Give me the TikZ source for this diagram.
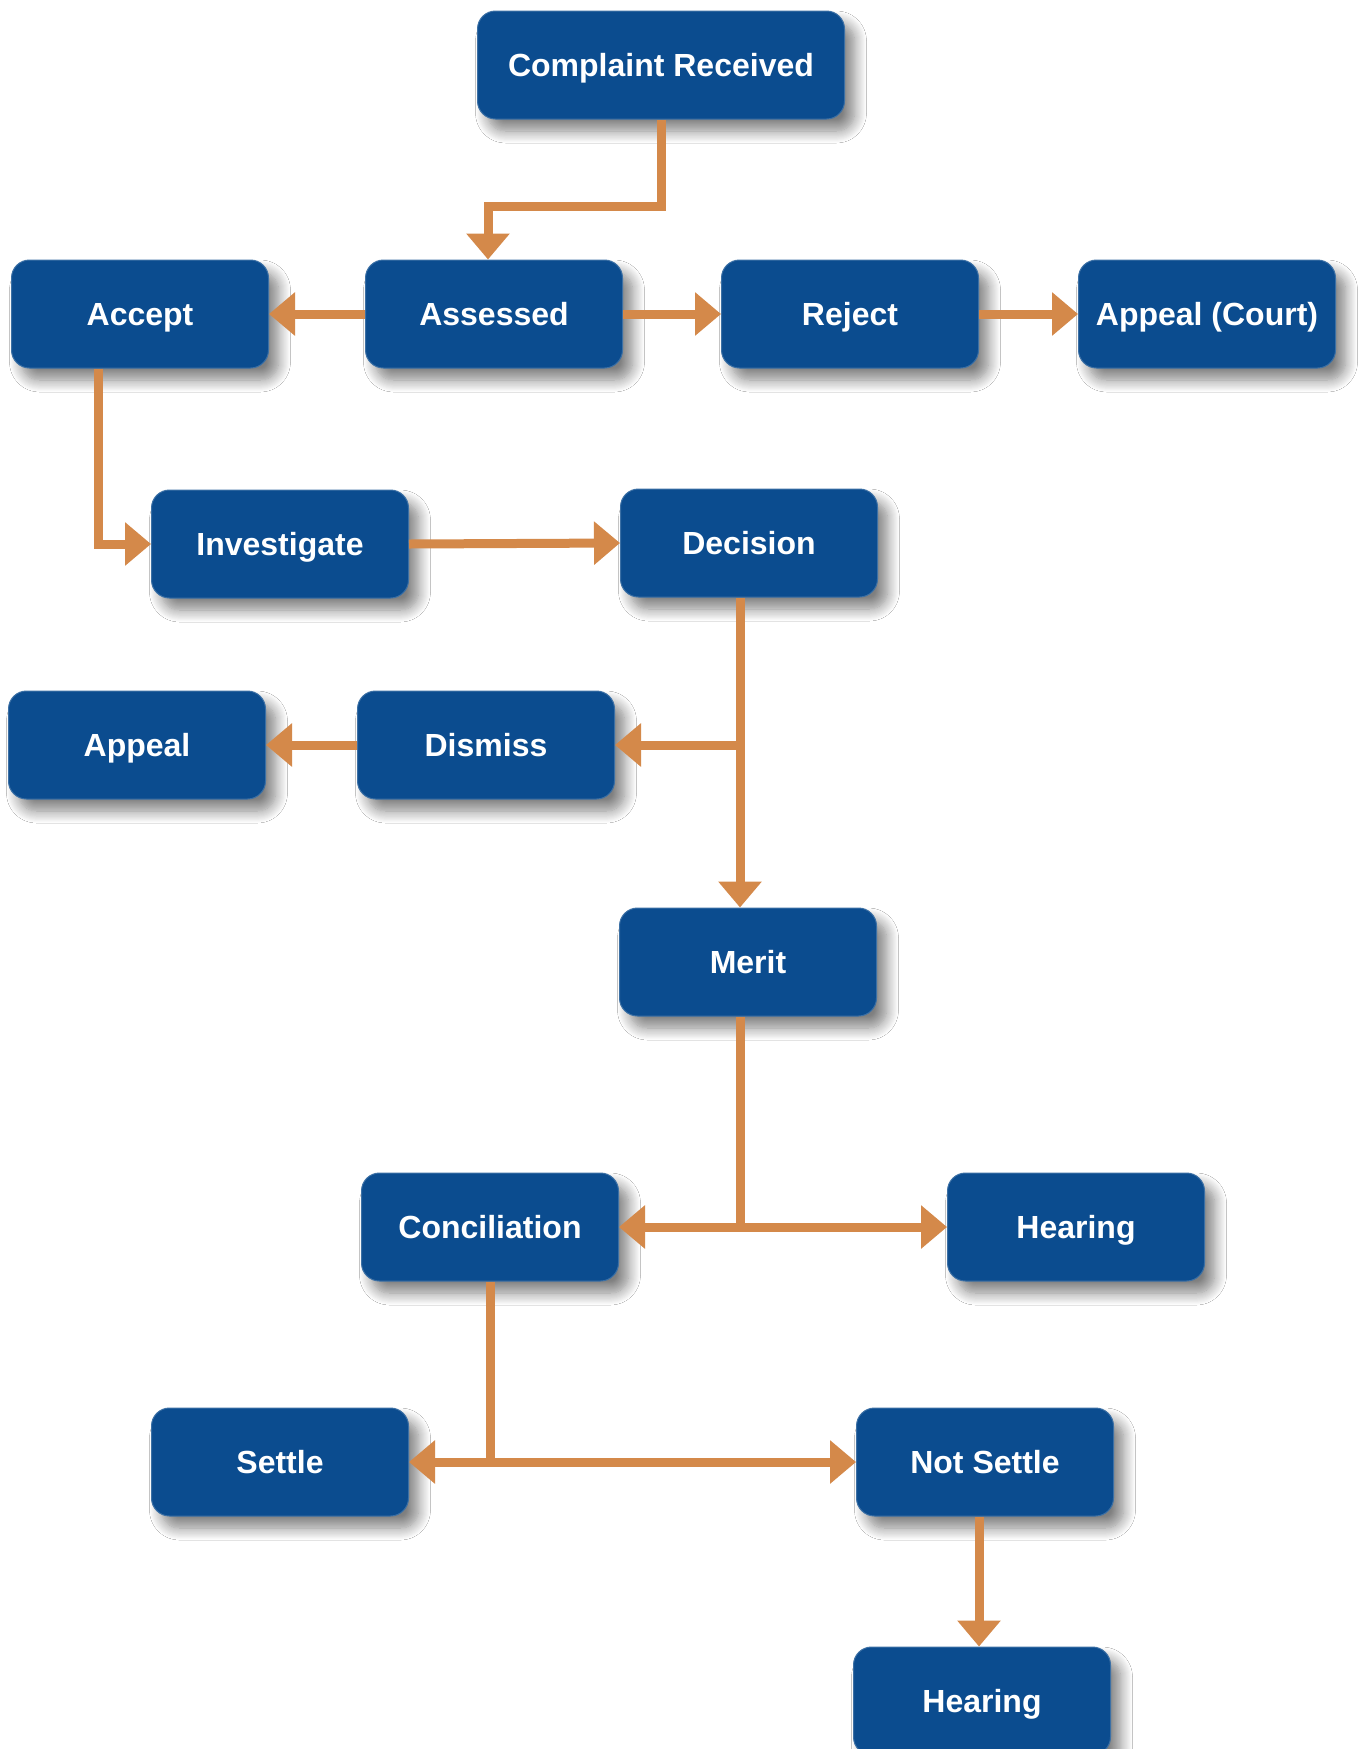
\documentclass[tikz,border=0pt]{standalone}
\usepackage{fontspec}
\setmainfont{Liberation Sans}
\usetikzlibrary{arrows.meta,shadows.blur,calc}
\definecolor{boxblue}{HTML}{0B4C8F}
\definecolor{linkorange}{HTML}{D4894A}
\tikzset{
  box/.style={rectangle, rounded corners=18pt, fill=boxblue, draw=boxblue!80!white, line width=1pt,
    minimum width=257pt, minimum height=108pt, inner sep=0pt, text=white,
    text height=23pt, text depth=0pt,
    font=\fontsize{32}{38}\selectfont\bfseries,
    blur shadow={shadow xshift=10pt, shadow yshift=-12pt, shadow blur radius=12pt, shadow opacity=50, shadow blur steps=12}},
  link/.style={draw=linkorange, line width=9pt},
  arr/.style={link, -{Triangle[length=26pt,width=42pt]}},
  arrtwo/.style={link, {Triangle[length=26pt,width=42pt]}-{Triangle[length=26pt,width=42pt]}}
}
\begin{document}
\begin{tikzpicture}[x=1pt,y=-1pt]
\fill[white] (0,0) rectangle (1358,1749);
\useasboundingbox (0,0) rectangle (1358,1749);
\begin{scope}
\clip (0,0) rectangle (1358,1749);
\node[box, minimum width=367pt] (cr) at (661,65) {Complaint Received};
\node[box] (as) at (494,314) {Assessed};
\node[box] (acc) at (140,314) {Accept};
\node[box] (rej) at (850,314) {Reject};
\node[box] (apc) at (1207,314) {Appeal (Court)};
\node[box] (inv) at (280,544) {Investigate};
\node[box] (dec) at (749,543) {Decision};
\node[box] (apl) at (137,745) {Appeal};
\node[box] (dis) at (486,745) {Dismiss};
\node[box] (mer) at (748,962) {Merit};
\node[box] (con) at (490,1227) {Conciliation};
\node[box] (hr1) at (1076,1227) {Hearing};
\node[box] (set) at (280,1462) {Settle};
\node[box] (ns) at (985,1462) {Not Settle};
\node[box] (hr2) at (982,1701) {Hearing};

% connectors
\path ([xshift=-6pt]as.north) coordinate (asin);
\draw[arr] (cr.south) -- ++(0,87) -| (asin);
\draw[arr] (as.west) -- (acc.east);
\draw[arr] (as.east) -- (rej.west);
\draw[arr] (rej.east) -- (apc.west);
\draw[arr] ([xshift=-42pt]acc.south) |- (inv.west);
\draw[arr] (inv.east) -- (dec.west);
\path ([xshift=-9pt]dec.south) coordinate (dout);
\draw[arr] (dout) -- (dout |- mer.north);
\draw[arr] (dout |- dis.east) -- (dis.east);
\draw[arr] (dis.west) -- (apl.east);
\path ([xshift=-8pt]mer.south) coordinate (mout);
\draw[link] (mout) -- (mout |- con.east);
\draw[arrtwo] (con.east) -- (hr1.west);
\draw[link] (con.south) -- (con.south |- set.east);
\draw[arrtwo] (set.east) -- (ns.west);
\path ([xshift=-6pt]ns.south) coordinate (nout);
\draw[arr] (nout) -- (nout |- hr2.north);
\end{scope}
\end{tikzpicture}
\end{document}
